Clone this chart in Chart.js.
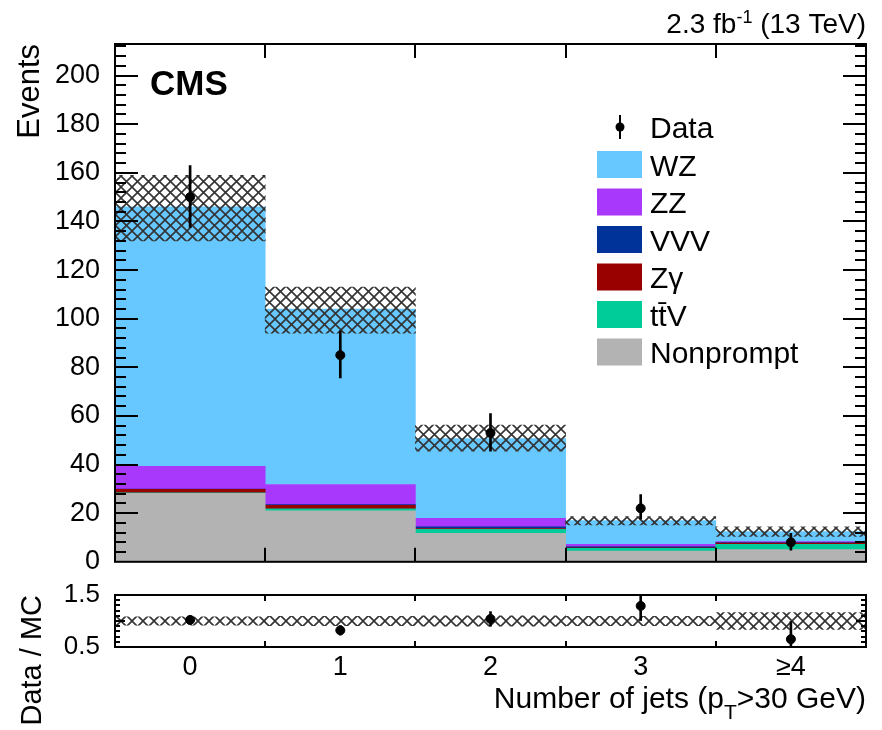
<!DOCTYPE html>
<html>
<head>
<meta charset="utf-8">
<script src="https://cdn.jsdelivr.net/npm/chart.js@4.4.1/dist/chart.umd.min.js"></script>
<style>
  html, body { margin: 0; padding: 0; background: #fff; }
  #wrap { position: relative; width: 882px; height: 730px; }
  #mainChart { position: absolute; left: 0; top: 0; }
  #ratioChart { position: absolute; left: 0; top: 566px; }
</style>
</head>
<body>
<div id="wrap">
  <canvas id="mainChart" width="882" height="585"></canvas>
  <canvas id="ratioChart" width="882" height="164"></canvas>
</div>
<script>
// Jet multiplicity bins
const bins = ['0', '1', '2', '3', '\u22654'];

// Stacked backgrounds, bottom to top
const nonprompt = [28.2, 21.0, 11.7, 4.4, 5.0];
const ttv = [0.2, 0.8, 1.7, 1.1, 2.2];
const zgamma = [1.4, 1.4, 0.3, 0.2, 0.5];
const vvv = [0.1, 0.3, 0.7, 0.6, 0.2];
const zz = [9.4, 8.3, 3.5, 0.9, 0.4];
const wz = [106.7, 72.2, 32.8, 9.8, 4.1];

// Total MC uncertainty band
const mcUncLow = [132, 94, 45.5, 15.2, 10.4];
const mcUncHigh = [159, 113, 56.2, 18.6, 14.4];

// Observed events
const dataCounts = [150, 85, 53, 22, 8];
const dataErrLow = [137.6, 75.6, 45.5, 17.5, 4.8];
const dataErrHigh = [163, 95, 61, 27.7, 11.7];

// Data / MC ratio panel
const ratio = [1.02, 0.82, 1.04, 1.29, 0.65];
const ratioErrLow = [0.94, 0.73, 0.90, 1.01, 0.42];
const ratioErrHigh = [1.10, 0.91, 1.18, 1.57, 0.99];
const ratioUncLow = [0.92, 0.91, 0.90, 0.91, 0.84];
const ratioUncHigh = [1.08, 1.09, 1.10, 1.09, 1.16];

const FONT = "'Liberation Sans', Arial, Helvetica, sans-serif";
Chart.defaults.font.family = FONT;
Chart.defaults.color = '#000';

// cross-hatch fill used for the uncertainty bands
function makeHatch(ctx) {
  const size = 11;
  const tile = document.createElement('canvas');
  tile.width = size;
  tile.height = size;
  const g = tile.getContext('2d');
  g.strokeStyle = '#333';
  g.lineWidth = 1.6;
  for (const k of [-size, 0, size]) {
    g.beginPath();
    g.moveTo(-2, -2 + k);
    g.lineTo(size + 2, size + 2 + k);
    g.moveTo(-2, size + 2 + k);
    g.lineTo(size + 2, -2 + k);
    g.stroke();
  }
  return ctx.createPattern(tile, 'repeat');
}

const pairs = (lo, hi) => lo.map((v, i) => [v, hi[i]]);

// inward ticks on all four sides plus the frame
function drawFrame(chart, cfg) {
  const { ctx, chartArea: a, scales: { x, y } } = chart;
  ctx.save();
  ctx.strokeStyle = '#000';
  ctx.lineWidth = 2;
  ctx.beginPath();
  const step = cfg.yStep / cfg.ySub;
  for (let n = Math.ceil(y.min / step + 1e-6); n * step < y.max - 1e-6; n++) {
    const py = Math.round(y.getPixelForValue(n * step));
    const len = n % cfg.ySub === 0 ? cfg.yMajor : cfg.yMinor;
    ctx.moveTo(a.left, py); ctx.lineTo(a.left + len, py);
    ctx.moveTo(a.right, py); ctx.lineTo(a.right - len, py);
  }
  for (let i = 0; i < bins.length - 1; i++) {
    const px = Math.round((x.getPixelForValue(i) + x.getPixelForValue(i + 1)) / 2);
    ctx.moveTo(px, a.bottom); ctx.lineTo(px, a.bottom - cfg.xLen);
    ctx.moveTo(px, a.top); ctx.lineTo(px, a.top + cfg.xLen);
  }
  ctx.stroke();
  ctx.strokeRect(a.left, a.top, a.right - a.left, a.bottom - a.top);
  ctx.restore();
}

function drawRotated(ctx, text, x, y, size) {
  ctx.save();
  ctx.translate(x, y);
  ctx.rotate(-Math.PI / 2);
  ctx.font = `${size}px ${FONT}`;
  ctx.fillStyle = '#000';
  ctx.textAlign = 'right';
  ctx.textBaseline = 'middle';
  ctx.fillText(text, 0, 0);
  ctx.restore();
}

const mainDecor = {
  id: 'mainDecor',
  afterDraw(chart) {
    const { ctx, chartArea: a } = chart;
    drawFrame(chart, { yStep: 20, ySub: 5, yMajor: 23, yMinor: 11, xLen: 14 });

    drawRotated(ctx, 'Events', 30, a.top, 31);

    ctx.save();
    ctx.fillStyle = '#000';
    ctx.textBaseline = 'alphabetic';
    ctx.font = `bold 35px ${FONT}`;
    ctx.fillText('CMS', a.left + 35, a.top + 51);

    // luminosity label, right aligned above the frame
    const big = `28px ${FONT}`, small = `18px ${FONT}`;
    const parts = [['2.3 fb', big, 0], ['-1', small, -10], [' (13 TeV)', big, 0]];
    let w = 0;
    parts.forEach(([t, f]) => { ctx.font = f; w += ctx.measureText(t).width; });
    let lx = a.right - w;
    parts.forEach(([t, f, dy]) => {
      ctx.font = f;
      ctx.fillText(t, lx, 33 + dy);
      lx += ctx.measureText(t).width;
    });

    // legend
    const boxX = a.left + 482, textX = a.left + 535, rowH = 37.5;
    let cy = a.top + 83;
    ctx.font = `30px ${FONT}`;
    ctx.beginPath();
    ctx.arc(boxX + 23, cy, 4.5, 0, Math.PI * 2);
    ctx.fill();
    ctx.fillRect(boxX + 22, cy - 12, 2, 24);
    ctx.fillText('Data', textX, cy + 11);
    const stacks = chart.data.datasets.filter(d => d.stack === 'mc').slice().reverse();
    stacks.forEach(d => {
      cy += rowH;
      ctx.fillStyle = d.backgroundColor;
      ctx.fillRect(boxX, cy - 13.5, 45, 27);
      ctx.fillStyle = '#000';
      ctx.fillText(d.label, textX, cy + 11);
    });
    ctx.restore();
  }
};

const ratioDecor = {
  id: 'ratioDecor',
  afterDraw(chart) {
    const { ctx, chartArea: a } = chart;
    drawFrame(chart, { yStep: 0.5, ySub: 5, yMajor: 10, yMinor: 5, xLen: 6 });
    drawRotated(ctx, 'Data / MC', 33, a.top, 29);

    // x axis title with subscript
    ctx.save();
    ctx.fillStyle = '#000';
    ctx.textBaseline = 'alphabetic';
    const big = `30px ${FONT}`, small = `21px ${FONT}`;
    const parts = [['Number of jets (p', big, 0], ['T', small, 11], ['>30 GeV)', big, 0]];
    let w = 0;
    parts.forEach(([t, f]) => { ctx.font = f; w += ctx.measureText(t).width; });
    let tx = a.right - w;
    parts.forEach(([t, f, dy]) => {
      ctx.font = f;
      ctx.fillText(t, tx, 142 + dy);
      tx += ctx.measureText(t).width;
    });
    ctx.restore();
  }
};

const mainCanvas = document.getElementById('mainChart');
const ratioCanvas = document.getElementById('ratioChart');

new Chart(mainCanvas, {
  type: 'bar',
  data: {
    labels: bins,
    datasets: [
      { type: 'line', label: 'Data', data: dataCounts, showLine: false, pointRadius: 4.5,
        pointBackgroundColor: '#000', pointBorderColor: '#000', stack: 'data', order: 0 },
      { label: 'Data error', data: pairs(dataErrLow, dataErrHigh), backgroundColor: '#000',
        barThickness: 2, grouped: false, stack: 'err', order: 1 },
      { label: 'MC uncertainty', data: pairs(mcUncLow, mcUncHigh),
        backgroundColor: makeHatch(mainCanvas.getContext('2d')), grouped: false, stack: 'unc', order: 2 },
      { label: 'Nonprompt', data: nonprompt, backgroundColor: '#b3b3b3', stack: 'mc', order: 3 },
      { label: 't\u0074\u0304V', data: ttv, backgroundColor: '#00cc99', stack: 'mc', order: 3 },
      { label: 'Z\u03b3', data: zgamma, backgroundColor: '#990000', stack: 'mc', order: 3 },
      { label: 'VVV', data: vvv, backgroundColor: '#003399', stack: 'mc', order: 3 },
      { label: 'ZZ', data: zz, backgroundColor: '#a838fc', stack: 'mc', order: 3 },
      { label: 'WZ', data: wz, backgroundColor: '#66c8ff', stack: 'mc', order: 3 }
    ]
  },
  options: {
    responsive: false,
    animation: false,
    layout: { padding: { top: 44, right: 16, bottom: 0, left: 0 } },
    datasets: { bar: { barPercentage: 1, categoryPercentage: 1, borderWidth: 0 } },
    plugins: { legend: { display: false }, tooltip: { enabled: false } },
    scales: {
      x: { display: false },
      y: {
        stacked: true,
        min: 0,
        max: 213,
        grid: { display: false },
        border: { display: false },
        ticks: { stepSize: 20, font: { size: 27 }, padding: 7 },
        afterBuildTicks: s => { s.ticks = s.ticks.filter(t => t.value % 20 === 0); },
        afterFit: s => { s.width = 115; }
      }
    }
  },
  plugins: [mainDecor]
});

new Chart(ratioCanvas, {
  type: 'bar',
  data: {
    labels: bins,
    datasets: [
      { type: 'line', label: 'Data / MC', data: ratio, showLine: false, pointRadius: 4.5,
        pointBackgroundColor: '#000', pointBorderColor: '#000', order: 0 },
      { label: 'Ratio error', data: pairs(ratioErrLow, ratioErrHigh), backgroundColor: '#000',
        barThickness: 2, grouped: false, order: 1 },
      { label: 'MC uncertainty', data: pairs(ratioUncLow, ratioUncHigh),
        backgroundColor: makeHatch(ratioCanvas.getContext('2d')), grouped: false, order: 2 }
    ]
  },
  options: {
    responsive: false,
    animation: false,
    layout: { padding: { top: 29, right: 16, bottom: 0, left: 0 } },
    datasets: { bar: { barPercentage: 1, categoryPercentage: 1, borderWidth: 0 } },
    plugins: { legend: { display: false }, tooltip: { enabled: false } },
    scales: {
      x: {
        grid: { display: false },
        border: { display: false },
        ticks: { font: { size: 27 }, padding: -4 },
        afterFit: s => { s.height = 83; }
      },
      y: {
        min: 0.5,
        max: 1.5,
        grid: { display: false },
        border: { display: false },
        ticks: { stepSize: 0.5, font: { size: 26 }, padding: 7 },
        afterFit: s => { s.width = 115; }
      }
    }
  },
  plugins: [ratioDecor]
});
</script>
</body>
</html>
